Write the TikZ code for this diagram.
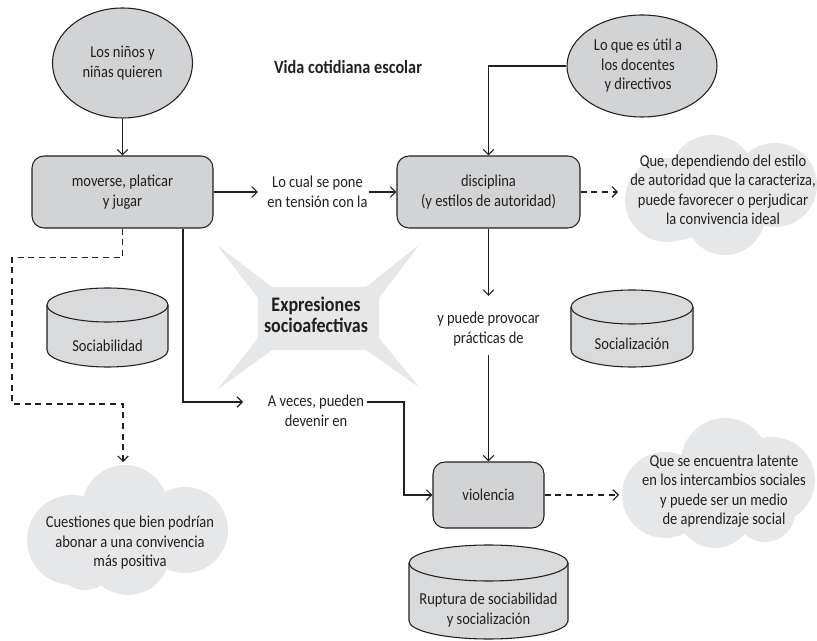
\documentclass[tikz,border=0pt]{standalone}
\usepackage{fontspec}
\setmainfont{Carlito}[FakeStretch=0.87]
\usetikzlibrary{arrows.meta,shapes.geometric,calc}
\definecolor{ink}{HTML}{231F20}
\definecolor{boxgray}{HTML}{D1D3D4}
\definecolor{cylgray}{HTML}{D9DADB}
\definecolor{softgray}{HTML}{E6E7E8}
\begin{document}
\begin{tikzpicture}[x=0.75pt,y=0.75pt,
  every node/.style={text=ink},
  txt/.style={align=center,inner sep=0pt,font=\fontsize{12.5}{14.6}\selectfont},
  box/.style={draw=ink,fill=boxgray,rounded corners=9pt,line width=0.8pt,txt},
  ell/.style={ellipse,draw=ink,fill=boxgray,line width=0.8pt,inner sep=0pt},
  conn/.style={draw=ink,line width=0.8pt,-{Straight Barb[length=4pt,width=8pt]}},
  dconn/.style={conn,dash pattern=on 4.5pt off 3.5pt},
  plain/.style={draw=ink,line width=0.8pt},
  cyl/.style={draw=ink,fill=cylgray,line width=0.8pt},
  soft/.style={fill=softgray},
  bigbold/.style={align=center,inner sep=0pt,font=\fontsize{15.5}{15.5}\selectfont\bfseries},
  titlefont/.style={inner sep=0pt,font=\fontsize{14}{15}\selectfont\bfseries},
]
\useasboundingbox (0,0) rectangle (817,-641);

% star
\fill[soft] (217,-245) -- (272,-287) -- (366,-287) -- (420,-244) -- (379,-298)
  -- (379,-338) -- (420,-388) -- (366,-350) -- (272,-350) -- (217,-390)
  -- (258,-338) -- (258,-298) -- cycle;
\node[bigbold] (expr) at (316,-315) {Expresiones\\socioafectivas};

% clouds
\fill[soft] (712,-178) circle (43) (667,-200) circle (42) (775,-185) circle (42)
  (725,-215) circle (40) (680,-215) circle (25) (720,-195) circle (40);
\fill[soft] (725,-462) circle (44) (665,-495) circle (43) (772,-480) circle (43)
  (715,-510) circle (38) (765,-512) circle (30) (720,-485) circle (40);
\fill[soft] (125,-508) circle (43) (72,-540) circle (45) (185,-530) circle (43)
  (128,-553) circle (42) (85,-560) circle (30) (128,-530) circle (40);
\node[txt] (cloudA) at (723,-190) {Que, dependiendo del estilo\\de autoridad que la caracteriza,\\puede favorecer o perjudicar\\la convivencia ideal};
\node[txt] (cloudB) at (724,-491) {Que se encuentra latente\\en los intercambios sociales\\y puede ser un medio\\de aprendizaje social};
\node[txt] (cloudC) at (130,-543) {Cuestiones que bien podrían\\abonar a una convivencia\\más positiva};

% cylinders
\path[cyl] (47,-305) -- (47,-350) arc[start angle=180,end angle=360,x radius=60.5,y radius=17]
  -- (168,-305) arc[start angle=0,end angle=180,x radius=60.5,y radius=17] -- cycle;
\draw[plain] (47,-305) arc[start angle=180,end angle=360,x radius=60.5,y radius=17];
\node[txt] (sociab) at (107.5,-346) {Sociabilidad};

\path[cyl] (571,-307) -- (571,-350) arc[start angle=180,end angle=360,x radius=61,y radius=17]
  -- (693,-307) arc[start angle=0,end angle=180,x radius=61,y radius=17] -- cycle;
\draw[plain] (571,-307) arc[start angle=180,end angle=360,x radius=61,y radius=17];
\node[txt] (socializ) at (632,-344) {Socialización};

\path[cyl] (409,-563) -- (409,-621) arc[start angle=180,end angle=360,x radius=79.5,y radius=18]
  -- (568,-563) arc[start angle=0,end angle=180,x radius=79.5,y radius=18] -- cycle;
\draw[plain] (409,-563) arc[start angle=180,end angle=360,x radius=79.5,y radius=18];
\node[txt] (ruptura) at (488.5,-610) {Ruptura de sociabilidad\\y socialización};

% title
\node[titlefont] (title) at (348,-67) {Vida cotidiana escolar};

% ellipses
\node[ell,minimum width=105pt,minimum height=82.5pt,
  label={[txt]center:Los niños y\\niñas quieren}] (ninos) at (122.5,-63) {};
\node[ell,minimum width=112.5pt,minimum height=76.5pt,
  label={[txt,xshift=-3pt]center:Lo que es útil a\\los docentes\\y directivos}] (utiles) at (642,-66) {};

% boxes
\node[box,minimum width=135.75pt,minimum height=54pt] (moverse) at (122.5,-192) {moverse, platicar\\y jugar};
\node[box,minimum width=137.25pt,minimum height=54pt] (disciplina) at (488.5,-192) {disciplina\\(y estilos de autoridad)};
\node[box,minimum width=83.25pt,minimum height=49.5pt] (violencia) at (488.5,-495) {violencia};

% text labels
\node[txt] (tension) at (317.5,-192) {Lo cual se pone\\en tensión con la};
\node[txt] (provocar) at (488.5,-329) {y puede provocar\\prácticas de};
\node[txt] (aveces) at (316,-411) {A veces, pueden\\devenir en};

% coordinates
\coordinate (cAin) at (618,-192);
\coordinate (cBin) at (619,-495);
\coordinate (cCin) at (123,-462);
\coordinate (av1) at (243,-402);
\coordinate (av2) at (367,-402);

% connectors
\draw[conn] (ninos) -- (moverse);
\draw[conn,shorten >=7pt] (moverse) -- (tension);
\draw[conn,shorten <=1pt] (tension) -- (disciplina);
\draw[conn] (utiles.west) -| (disciplina.north);
\draw[dconn] (disciplina) -- (cAin);
\draw[conn,shorten >=12pt] (disciplina) -- (provocar);
\draw[conn,shorten <=7pt] (provocar) -- (violencia);
\draw[conn] ($(moverse.south)+(60.5,0)$) |- (av1);
\draw[conn] (av2) -- (404,-402) |- (violencia.west);
\draw[dconn] (violencia) -- (cBin);
\draw[dconn] (moverse.south) -- ++(0,-29) -| (12,-404) -| (cCin);
\end{tikzpicture}
\end{document}
